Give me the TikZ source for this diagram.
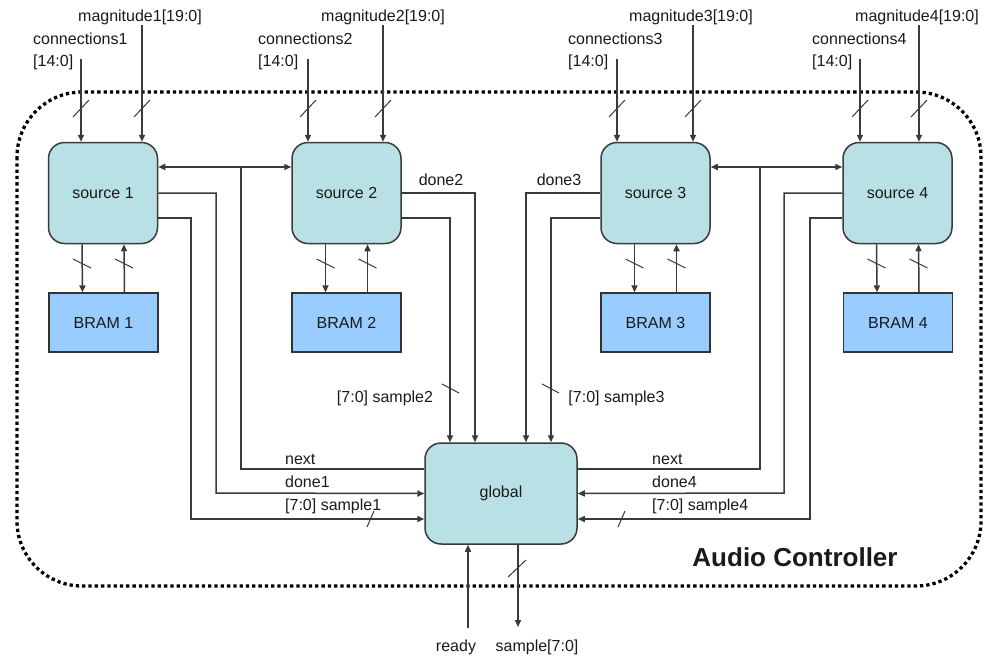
\documentclass[tikz,border=0pt]{standalone}
\usepackage{fontspec}
\setmainfont{Liberation Sans}
\usetikzlibrary{arrows.meta}
\definecolor{wire}{HTML}{3A3A3A}
\definecolor{srcfill}{HTML}{B9E0E4}
\definecolor{bramfill}{HTML}{99CCFF}
\definecolor{txt}{HTML}{1A1A1A}
\begin{document}
\begin{tikzpicture}[x=1pt,y=-1pt,
  font=\fontsize{16}{19}\selectfont,
  srcbox/.style={draw=wire, line width=1.5pt, fill=srcfill, rounded corners=16pt,
    minimum width=109pt, minimum height=101pt, inner sep=0pt, text=txt},
  brambox/.style={draw=black!80, line width=1.3pt, fill=bramfill,
    minimum width=109pt, minimum height=59pt, inner sep=0pt, text=txt},
  globbox/.style={srcbox, minimum width=152pt, minimum height=101pt},
  wireline/.style={draw=wire, line width=1.5pt},
  arr/.style={wireline, -{Triangle[length=7pt,width=6pt]}},
  biarr/.style={wireline, {Triangle[length=7pt,width=6pt]}-{Triangle[length=7pt,width=6pt]}},
  slash/.style={draw=wire, line width=1pt},
  lbl/.style={inner sep=0pt, text=txt},
  border/.style={draw=black, line width=3.3pt, dash pattern=on 3.3pt off 3pt, rounded corners=65pt}
]
\useasboundingbox[fill=white] (0,0) rectangle (985,657);

% dotted outline
\draw[border] (17,92) rectangle (981,586);
\node[lbl, font=\bfseries\fontsize{26}{30}\selectfont] (ac) at (795,557) {Audio Controller};

% blocks
\node[srcbox] (s1) at (103,193) {source 1};
\node[srcbox] (s2) at (346.5,193) {source 2};
\node[srcbox] (s3) at (655.5,193) {source 3};
\node[srcbox] (s4) at (897.5,193) {source 4};
\node[brambox] (b1) at (103.5,322.5) {BRAM 1};
\node[brambox] (b2) at (346.5,322.5) {BRAM 2};
\node[brambox] (b3) at (655.5,322.5) {BRAM 3};
\node[brambox] (b4) at (898,322.5) {BRAM 4};
\node[globbox] (g) at (501,493.5) {global};

% top inputs
\coordinate (c1) at (81,59);  \coordinate (m1) at (142,25);
\coordinate (c2) at (308,59); \coordinate (m2) at (383,25);
\coordinate (c3) at (617,59); \coordinate (m3) at (693,25);
\coordinate (c4) at (860,59); \coordinate (m4) at (919,25);
\draw[arr] (c1) -- (c1 |- s1.north);
\draw[arr] (m1) -- (m1 |- s1.north);
\draw[arr] (c2) -- (c2 |- s2.north);
\draw[arr] (m2) -- (m2 |- s2.north);
\draw[arr] (c3) -- (c3 |- s3.north);
\draw[arr] (m3) -- (m3 |- s3.north);
\draw[arr] (c4) -- (c4 |- s4.north);
\draw[arr] (m4) -- (m4 |- s4.north);
\foreach \x in {81,142,308,383,617,693,860,919}
  \draw[slash] (\x-8,117) -- (\x+8,100);

\node[lbl] (m1l) at (140,17) {magnitude1[19:0]};
\node[lbl] (m2l) at (383,17) {magnitude2[19:0]};
\node[lbl] (m3l) at (691,17) {magnitude3[19:0]};
\node[lbl] (m4l) at (917,17) {magnitude4[19:0]};
\node[lbl, anchor=west] (c1a) at (33,39) {connections1};
\node[lbl, anchor=west] (c1b) at (33,62) {[14:0]};
\node[lbl, anchor=west] (c2a) at (258,39) {connections2};
\node[lbl, anchor=west] (c2b) at (258,62) {[14:0]};
\node[lbl, anchor=west] (c3a) at (568,39) {connections3};
\node[lbl, anchor=west] (c3b) at (568,62) {[14:0]};
\node[lbl, anchor=west] (c4a) at (812,39) {connections4};
\node[lbl, anchor=west] (c4b) at (812,62) {[14:0]};

% source <-> BRAM
\foreach \s/\b in {s1/b1,s2/b2,s3/b3,s4/b4}{
  \draw[arr] ([xshift=-21pt]\s.south) -- ([xshift=-21pt]\b.north);
  \draw[arr] ([xshift=21pt]\b.north) -- ([xshift=21pt]\s.south);
}
\foreach \x in {82,124,325.5,367.5,634.5,676.5,876.5,918.5}
  \draw[slash] (\x-9,259) -- (\x+9,268);

% bidirectional links and next
\draw[biarr] ([yshift=26pt]s1.east) -- ([yshift=26pt]s2.west);
\draw[biarr] ([yshift=26pt]s3.east) -- ([yshift=26pt]s4.west);
\draw[wireline] ([yshift=24.5pt]g.west) -| (241,167);
\draw[wireline] ([yshift=24.5pt]g.east) -| (760,167);

% source 1 -> global
\draw[arr] (s1.east) -| (216,493) -- (g.west);
\draw[arr] ([yshift=-25pt]s1.east) -| (191,519) -- ([yshift=-25.5pt]g.west);
% source 2 -> global
\draw[arr] (s2.east) -| ([xshift=-26pt]g.north);
\draw[arr] ([yshift=-25pt]s2.east) -| ([xshift=-51pt]g.north);
% source 3 -> global
\draw[arr] (s3.west) -| ([xshift=25pt]g.north);
\draw[arr] ([yshift=-25pt]s3.west) -| ([xshift=50pt]g.north);
% source 4 -> global
\draw[arr] (s4.west) -| (784,493) -- (g.east);
\draw[arr] ([yshift=-25pt]s4.west) -| (810,519) -- ([yshift=-25.5pt]g.east);

\draw[slash] (442,384) -- (459,393);
\draw[slash] (542,384) -- (559,393);
\draw[slash] (367,527) -- (374,511);
\draw[slash] (618,527) -- (625,511);

\node[lbl] (d2l) at (441,180) {done2};
\node[lbl] (d3l) at (559,180) {done3};
\node[lbl] (s2l) at (385,398) {[7:0] sample2};
\node[lbl] (s3l) at (616.5,398) {[7:0] sample3};
\node[lbl, anchor=west] (n1l) at (285,459) {next};
\node[lbl, anchor=west] (d1l) at (285,482) {done1};
\node[lbl, anchor=west] (s1l) at (285,506) {[7:0] sample1};
\node[lbl, anchor=west] (n4l) at (652,459) {next};
\node[lbl, anchor=west] (d4l) at (652,482) {done4};
\node[lbl, anchor=west] (s4l) at (652,506) {[7:0] sample4};

% global I/O
\coordinate (rdy) at (468,628);
\coordinate (sout) at (518,627);
\draw[arr] (rdy) -- (rdy |- g.south);
\draw[arr] (sout |- g.south) -- (sout);
\draw[slash] (508,577) -- (526,560);
\node[lbl] (rdyl) at (456,647) {ready};
\node[lbl] (soutl) at (537,647) {sample[7:0]};
\end{tikzpicture}
\end{document}
